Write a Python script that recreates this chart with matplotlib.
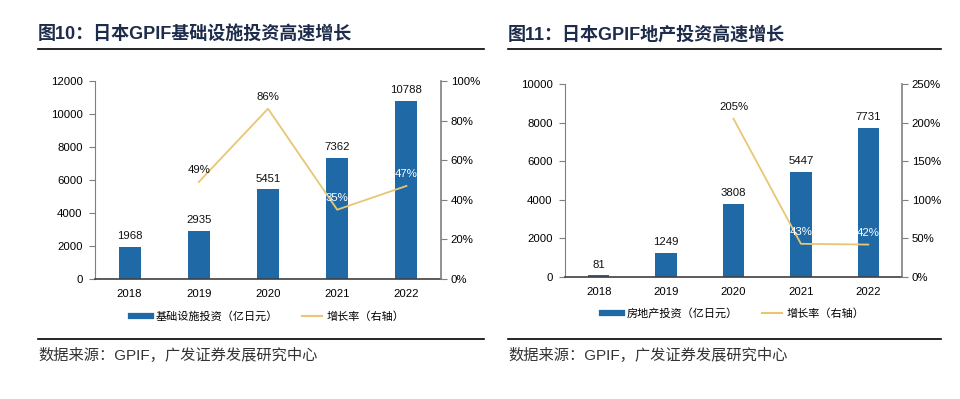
import matplotlib
matplotlib.use('Agg')
import matplotlib.pyplot as plt
from matplotlib.lines import Line2D
from matplotlib.ticker import FuncFormatter

plt.rcParams['font.family'] = ['Liberation Sans', 'Noto Sans CJK SC']

years = ['2018', '2019', '2020', '2021', '2022']

infra_invest = [1968, 2935, 5451, 7362, 10788]
infra_growth = [None, 49, 86, 35, 47]
infra_growth_white = [False, False, False, True, True]

estate_invest = [81, 1249, 3808, 5447, 7731]
estate_growth = [None, None, 205, 43, 42]
estate_growth_white = [False, False, False, True, True]

BAR = '#1f69a6'
LINE = '#e8c673'
TITLE = '#1c2c4a'
SPINE = '#7f7f7f'

fig = plt.figure(figsize=(9.6, 3.99), dpi=100)
W, H = 960.0, 399.0


def px_axes(x0, x1, ytop, ybot):
    return fig.add_axes([x0 / W, (H - ybot) / H, (x1 - x0) / W, (ybot - ytop) / H])


def fig_y(y):
    return (H - y) / H


def draw_panel(ax, vals, growth, white, ymax, ystep, rmax, rstep, bar_name):
    xs = list(range(len(years)))
    ax.bar(xs, vals, width=0.32, color=BAR, zorder=2)
    for x, v in zip(xs, vals):
        ax.annotate(str(v), (x, v), xytext=(0, 4), textcoords='offset points',
                    ha='center', va='bottom', fontsize=8.2, color='#111111')
    ax.set_xlim(-0.5, len(years) - 0.5)
    ax.set_ylim(0, ymax)
    ax.set_yticks(range(0, ymax + 1, ystep))
    ax.set_xticks(xs)
    ax.set_xticklabels(years)
    ax.tick_params(axis='x', length=0, pad=7, labelsize=8.2)
    ax.tick_params(axis='y', length=4, color=SPINE, pad=5, labelsize=8.2)
    for s in ['top', 'right']:
        ax.spines[s].set_visible(False)
    ax.spines['left'].set_color(SPINE)
    ax.spines['bottom'].set_color('#404040')
    ax.spines['bottom'].set_linewidth(1.2)

    ax2 = ax.twinx()
    gx = [x for x, g in zip(xs, growth) if g is not None]
    gy = [g for g in growth if g is not None]
    ax2.plot(gx, gy, color=LINE, lw=1.3, zorder=3)
    for x, g, w in zip(xs, growth, white):
        if g is None:
            continue
        ax2.annotate('%d%%' % g, (x, g), xytext=(0, 5), textcoords='offset points',
                     ha='center', va='bottom', fontsize=8.2,
                     color='white' if w else '#111111')
    ax2.set_ylim(0, rmax)
    ax2.set_yticks(range(0, rmax + 1, rstep))
    ax2.yaxis.set_major_formatter(FuncFormatter(lambda v, p: '%d%%' % v))
    ax2.tick_params(axis='y', length=4, color=SPINE, pad=3, labelsize=8.2)
    for s in ['top', 'left', 'bottom']:
        ax2.spines[s].set_visible(False)
    ax2.spines['right'].set_color(SPINE)
    ax2.spines['right'].set_linewidth(1.2)

    handles = [Line2D([], [], color=BAR, lw=4.5),
               Line2D([], [], color=LINE, lw=1.5)]
    ax.legend(handles, [bar_name, '增长率（右轴）'], loc='center',
              bbox_to_anchor=(0.5, -0.19), ncol=2, frameon=False,
              handlelength=1.8, handletextpad=0.4, columnspacing=2.2,
              prop={'family': ['Noto Sans CJK SC'], 'size': 8})
    return ax2


ax_l = px_axes(95, 441, 81, 279)
draw_panel(ax_l, infra_invest, infra_growth, infra_growth_white,
           12000, 2000, 100, 20, '基础设施投资（亿日元）')

ax_r = px_axes(565, 902, 84, 277)
draw_panel(ax_r, estate_invest, estate_growth, estate_growth_white,
           10000, 2000, 250, 50, '房地产投资（亿日元）')

# titles, rules and source notes
for x0, x1, title in [(38, 484, '图10：日本GPIF基础设施投资高速增长'),
                      (508, 941, '图11：日本GPIF地产投资高速增长')]:
    fig.text(x0 / W, fig_y(35), title, fontsize=13, fontweight='bold',
             color=TITLE, va='center', ha='left')
    fig.add_artist(Line2D([x0 / W, x1 / W], [fig_y(49), fig_y(49)],
                          color='black', lw=1.2))
    fig.add_artist(Line2D([x0 / W, x1 / W], [fig_y(339), fig_y(339)],
                          color='black', lw=1.2))
    fig.text(x0 / W, fig_y(355), '数据来源：GPIF，广发证券发展研究中心',
             fontsize=11, color='#333333', va='center', ha='left')

fig.savefig('out.png', dpi=100, facecolor='white')
